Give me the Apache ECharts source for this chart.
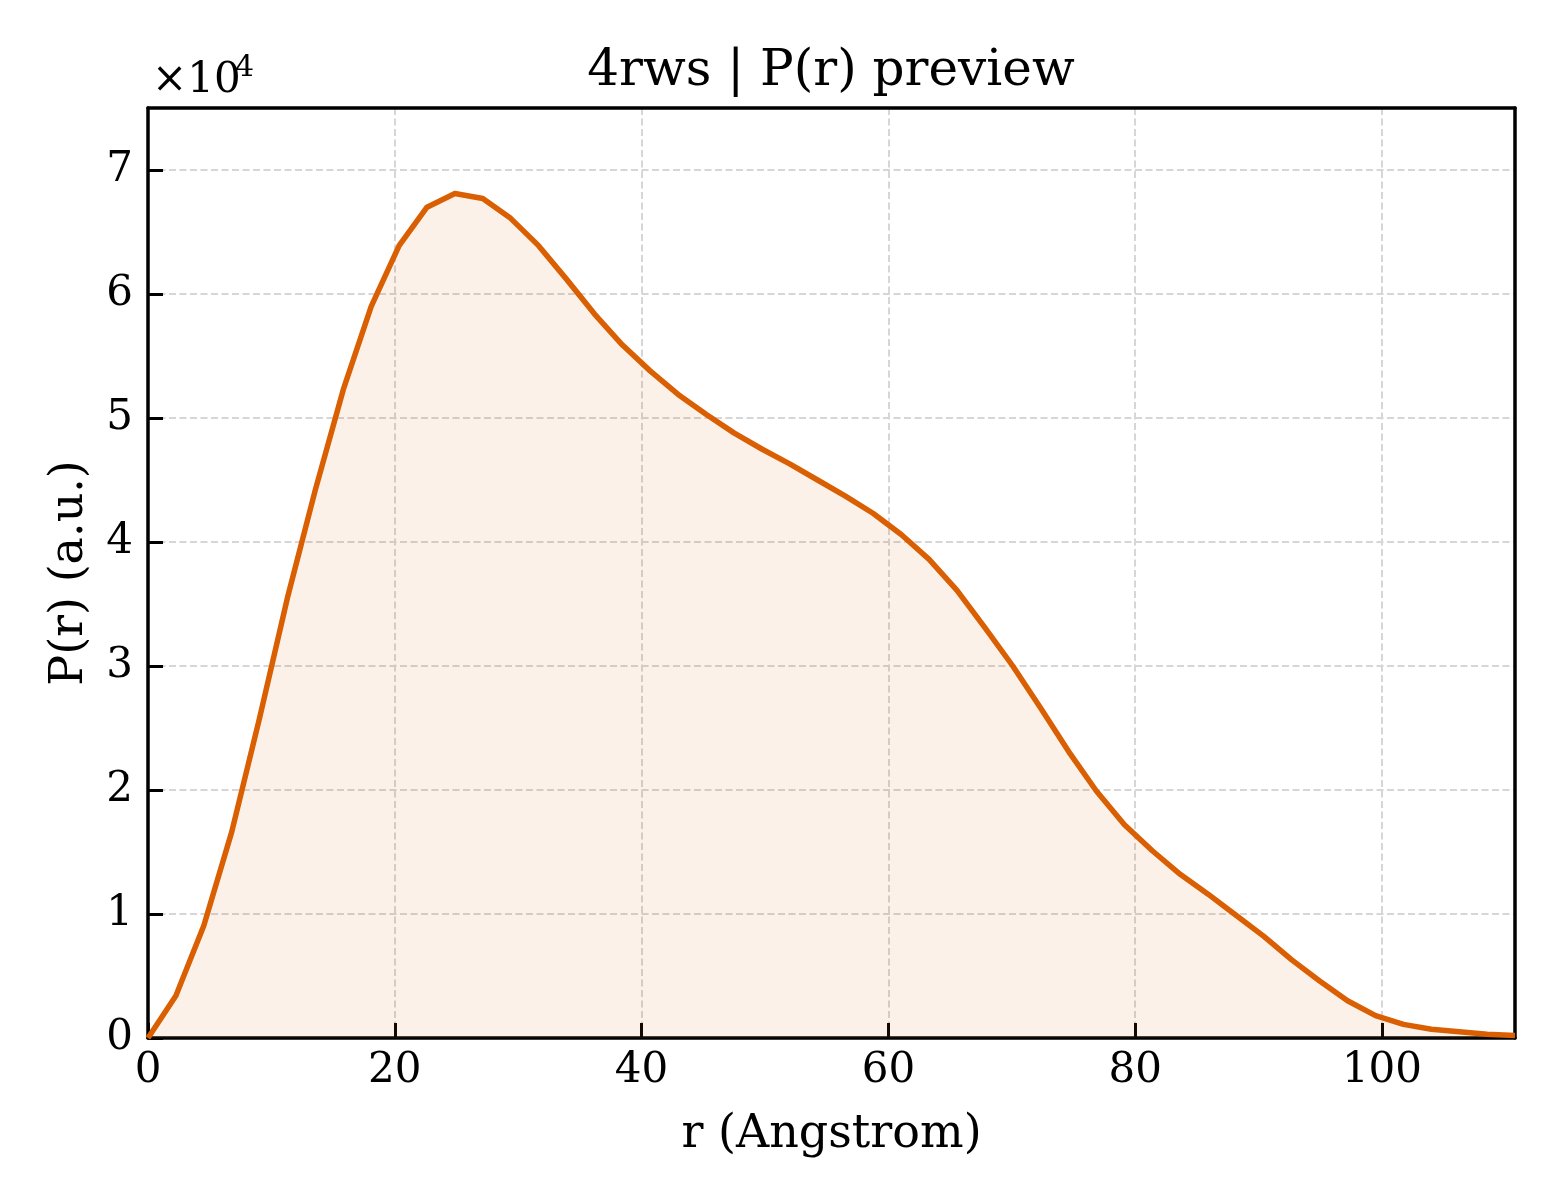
<!DOCTYPE html>
<html>
<head>
<meta charset="utf-8">
<script src="https://cdn.jsdelivr.net/npm/echarts@6/dist/echarts.min.js"></script>
<style>
html,body{margin:0;padding:0;background:#fff;}
#chart{width:1560px;height:1200px;}
</style>
</head>
<body>
<div id="chart"></div>
<script>
const rValues = [0, 2.26, 4.52, 6.78, 9.04, 11.30, 13.56, 15.83, 18.09, 20.35, 22.61, 24.87, 27.13, 29.39, 31.65, 33.91, 36.17, 38.43, 40.69, 42.96, 45.22, 47.48, 49.74, 52.00, 54.26, 56.52, 58.78, 61.04, 63.30, 65.56, 67.82, 70.08, 72.35, 74.61, 76.87, 79.13, 81.39, 83.65, 85.91, 88.17, 90.43, 92.69, 94.95, 97.21, 99.48, 101.74, 104.00, 106.26, 108.52, 110.78];
const prValues = [0, 3400, 9050, 16600, 25800, 35500, 44200, 52300, 59000, 63900, 67000, 68100, 67700, 66100, 63900, 61200, 58400, 55900, 53800, 51900, 50300, 48800, 47500, 46300, 45000, 43700, 42300, 40600, 38600, 36100, 33100, 30000, 26600, 23100, 19900, 17200, 15100, 13200, 11600, 9900, 8200, 6300, 4600, 3000, 1800, 1100, 700, 500, 300, 200];
const xTicks = [0, 20, 40, 60, 80, 100];
const yTicks = [0, 1, 2, 3, 4, 5, 6, 7];
const yScale = 10000;
const titleText = '4rws | P(r) preview';
const xName = 'r (Angstrom)';
const yName = 'P(r) (a.u.)';

const FONT = '"DejaVu Serif", "Liberation Serif", serif';
const lineColor = '#d95f02';

const chart = echarts.init(document.getElementById('chart'), null, {renderer: 'canvas'});
const gridLine = {show: true, showMinLine: false, showMaxLine: false,
  lineStyle: {color: '#d6d6d6', width: 2, type: [7, 3.5]}};
const tickStyle = {show: true, inside: true, length: 15, lineStyle: {color: '#000', width: 3}};
const spine = {show: true, onZero: false, lineStyle: {color: '#000', width: 3.5}};
chart.setOption({
  animation: false,
  backgroundColor: '#fff',
  title: {
    text: titleText, left: 826, textAlign: 'center', top: 42,
    textStyle: {fontFamily: FONT, fontSize: 50, fontWeight: 'normal', color: '#000'}
  },
  grid: {left: 148, right: 45, top: 108, bottom: 162, show: false},
  graphic: [
    {type: 'text', left: 152, top: 60, z: 100, style: {text: '×10', font: '42px ' + FONT, fill: '#000'}},
    {type: 'text', left: 235, top: 53, z: 100, style: {text: '4', font: '30px ' + FONT, fill: '#000'}}
  ],
  xAxis: [{
    type: 'value', min: 0, max: rValues[rValues.length - 1], interval: xTicks[1] - xTicks[0],
    name: xName, nameLocation: 'middle', nameGap: 74,
    nameTextStyle: {fontFamily: FONT, fontSize: 46, color: '#000'},
    axisLine: spine,
    axisTick: tickStyle,
    axisLabel: {fontFamily: FONT, fontSize: 42, color: '#000', margin: 12, showMaxLabel: false,
      formatter: v => xTicks.includes(v) ? String(v) : ''},
    splitLine: gridLine
  }, {
    type: 'value', position: 'top', min: 0, max: rValues[rValues.length - 1],
    axisLine: spine, axisTick: {show: false}, axisLabel: {show: false}, splitLine: {show: false}
  }],
  yAxis: [{
    type: 'value', min: 0, max: 75000, interval: yScale,
    name: yName, nameLocation: 'middle', nameGap: 55, nameRotate: 90,
    nameTextStyle: {fontFamily: FONT, fontSize: 46, color: '#000'},
    axisLine: spine,
    axisTick: tickStyle,
    axisLabel: {fontFamily: FONT, fontSize: 42, color: '#000', margin: 15, showMaxLabel: false,
      formatter: v => { const t = v / yScale; return yTicks.includes(t) ? String(t) : ''; }},
    splitLine: gridLine
  }, {
    type: 'value', position: 'right', min: 0, max: 75000,
    axisLine: spine, axisTick: {show: false}, axisLabel: {show: false}, splitLine: {show: false}
  }],
  series: [{
    type: 'line',
    xAxisIndex: 0, yAxisIndex: 0,
    data: rValues.map((r, i) => [r, prValues[i]]),
    showSymbol: false,
    smooth: false,
    lineStyle: {color: lineColor, width: 5.5, join: 'round'},
    itemStyle: {color: lineColor},
    areaStyle: {color: 'rgba(217,95,2,0.13)', origin: 'start'}
  }]
});
</script>
</body>
</html>
